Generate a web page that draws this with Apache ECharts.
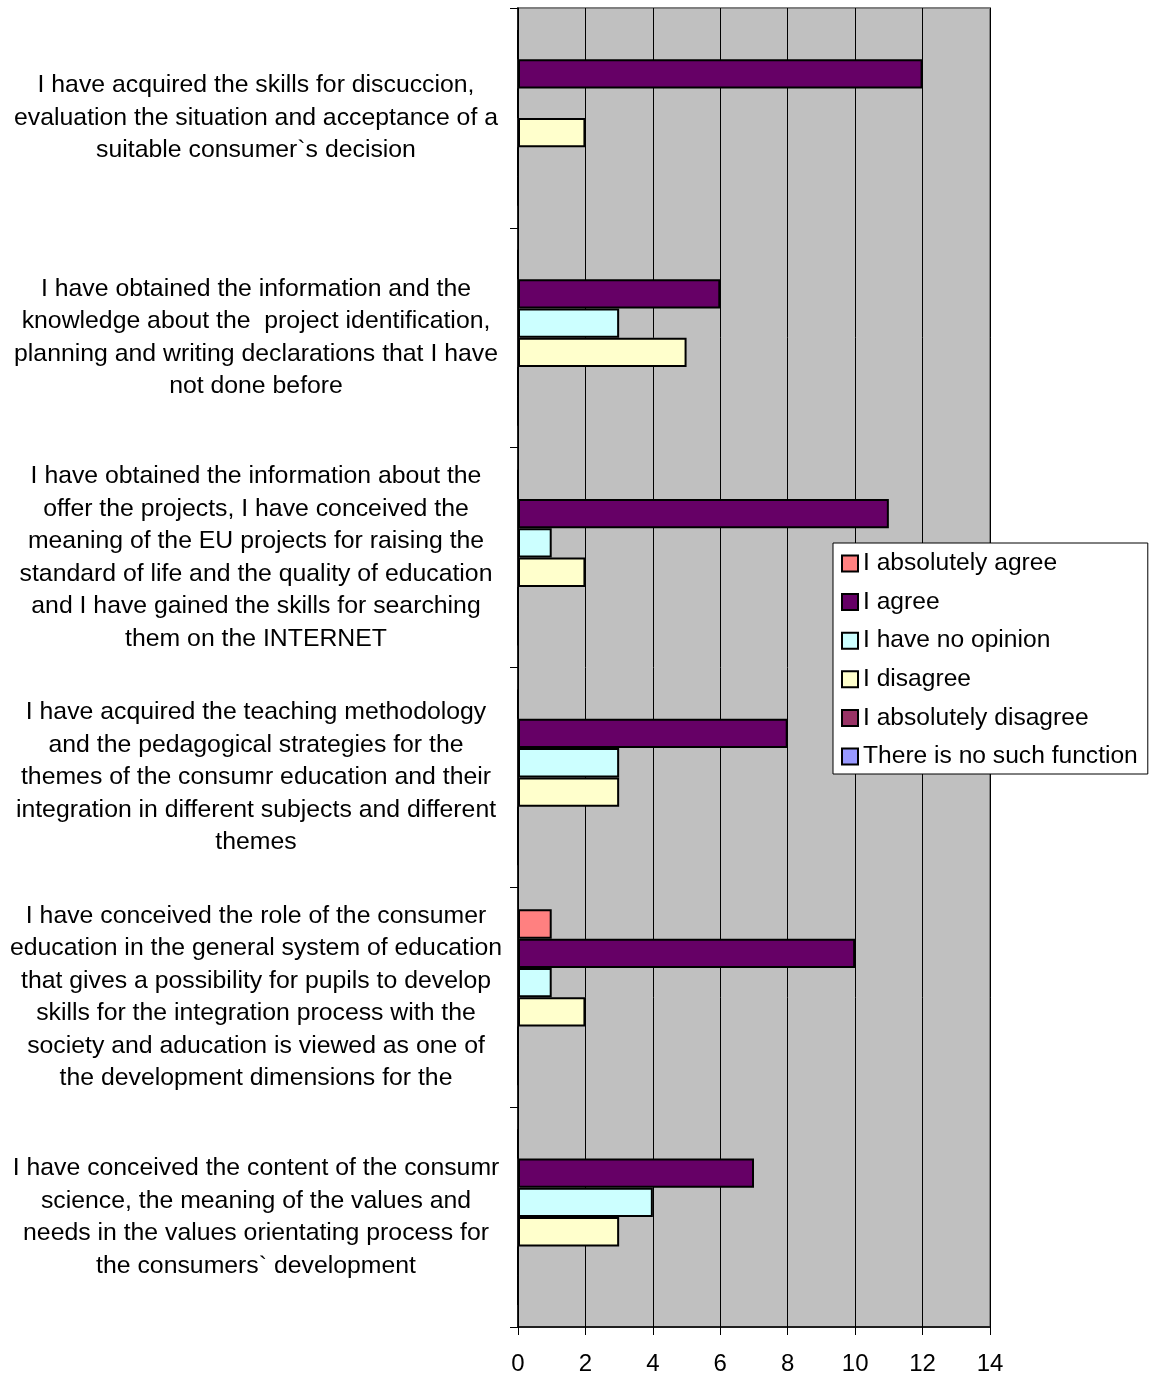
<!DOCTYPE html>
<html>
<head>
<meta charset="utf-8">
<title>Survey results</title>
<script src="https://cdn.jsdelivr.net/npm/echarts@6/dist/echarts.min.js"></script>
<style>
  html, body { margin: 0; padding: 0; background: #fff; }
  #chart { width: 1150px; height: 1374px; }
</style>
</head>
<body>
<div id="chart"></div>
<script>
// Statements, listed top to bottom
const categories = [
  "I have acquired the skills for discuccion,\nevaluation the situation and acceptance of a\nsuitable consumer`s decision",
  "I have obtained the information and the\nknowledge about the  project identification,\nplanning and writing declarations that I have\nnot done before",
  "I have obtained the information about the\noffer the projects, I have conceived the\nmeaning of the EU projects for raising the\nstandard of life and the quality of education\nand I have gained the skills for searching\nthem on the INTERNET",
  "I have acquired the teaching methodology\nand the pedagogical strategies for the\nthemes of the consumr education and their\nintegration in different subjects and different\nthemes",
  "I have conceived the role of the consumer\neducation in the general system of education\nthat gives a possibility for pupils to develop\nskills for the integration process with the\nsociety and aducation is viewed as one of\nthe development dimensions for the",
  "I have conceived the content of the consumr\nscience, the meaning of the values and\nneeds in the values orientating process for\nthe consumers` development"
];

// Answer counts per statement
const absolutelyAgree    = [0, 0, 0, 0, 1, 0];
const agree              = [12, 6, 11, 8, 10, 7];
const noOpinion          = [0, 3, 1, 3, 1, 4];
const disagree           = [2, 5, 2, 3, 2, 3];
const absolutelyDisagree = [0, 0, 0, 0, 0, 0];
const noSuchFunction     = [0, 0, 0, 0, 0, 0];

const seriesNames = [
  "I absolutely agree",
  "I agree",
  "I have no opinion",
  "I disagree",
  "I absolutely disagree",
  "There is no such function"
];
const seriesData = [absolutelyAgree, agree, noOpinion, disagree, absolutelyDisagree, noSuchFunction];
const seriesColors = ["#FF8080", "#660066", "#CCFFFF", "#FFFFCC", "#993366", "#9999FF"];

const FONT = "'Liberation Sans', Arial, Helvetica, sans-serif";

const chart = echarts.init(document.getElementById('chart'), null, { renderer: 'canvas' });

chart.setOption({
  animation: false,
  backgroundColor: '#ffffff',
  textStyle: { fontFamily: FONT, color: '#000' },
  grid: {
    left: 518,
    top: 8,
    right: 160,
    bottom: 47,
    show: true,
    backgroundColor: '#C0C0C0',
    borderColor: '#808080',
    borderWidth: 2,
    containLabel: false,
    outerBoundsMode: 'none'
  },
  legend: {
    orient: 'vertical',
    left: 833,
    top: 543,
    data: seriesNames,
    backgroundColor: '#ffffff',
    borderColor: '#000000',
    borderWidth: 1,
    borderRadius: 0,
    padding: [8, 10, 5, 8],
    itemWidth: 16,
    itemHeight: 16,
    itemGap: 13.6,
    icon: 'rect',
    itemStyle: { borderWidth: 2, borderColor: '#000' },
    textStyle: { fontFamily: FONT, fontSize: 24.6, color: '#000', lineHeight: 24, padding: [0, 0, 0, 0] },
    selectedMode: false
  },
  xAxis: {
    type: 'value',
    min: 0,
    max: 14,
    interval: 2,
    axisLine: { show: true, onZero: false, lineStyle: { color: '#000', width: 1.5 } },
    axisTick: { show: true, inside: false, length: 8, lineStyle: { color: '#000', width: 1 } },
    axisLabel: { fontFamily: FONT, fontSize: 24, color: '#000', margin: 25 },
    splitLine: { show: true, lineStyle: { color: '#000', width: 1 } }
  },
  yAxis: {
    type: 'category',
    data: categories,
    inverse: true,
    axisLine: { show: true, lineStyle: { color: '#000', width: 1.5 } },
    axisTick: { show: true, inside: false, length: 8, alignWithLabel: false, lineStyle: { color: '#000', width: 1 } },
    axisLabel: {
      fontFamily: FONT,
      fontSize: 24.8,
      lineHeight: 32.5,
      color: '#000',
      align: 'center',
      margin: 262,
      interval: 0
    },
    splitLine: { show: false }
  },
  series: seriesNames.map((name, i) => ({
    name: name,
    type: 'bar',
    data: seriesData[i],
    barGap: '0%',
    barCategoryGap: '20%',
    itemStyle: { color: seriesColors[i], borderColor: '#000', borderWidth: 2 },
    emphasis: { disabled: true }
  }))
});
</script>
</body>
</html>
